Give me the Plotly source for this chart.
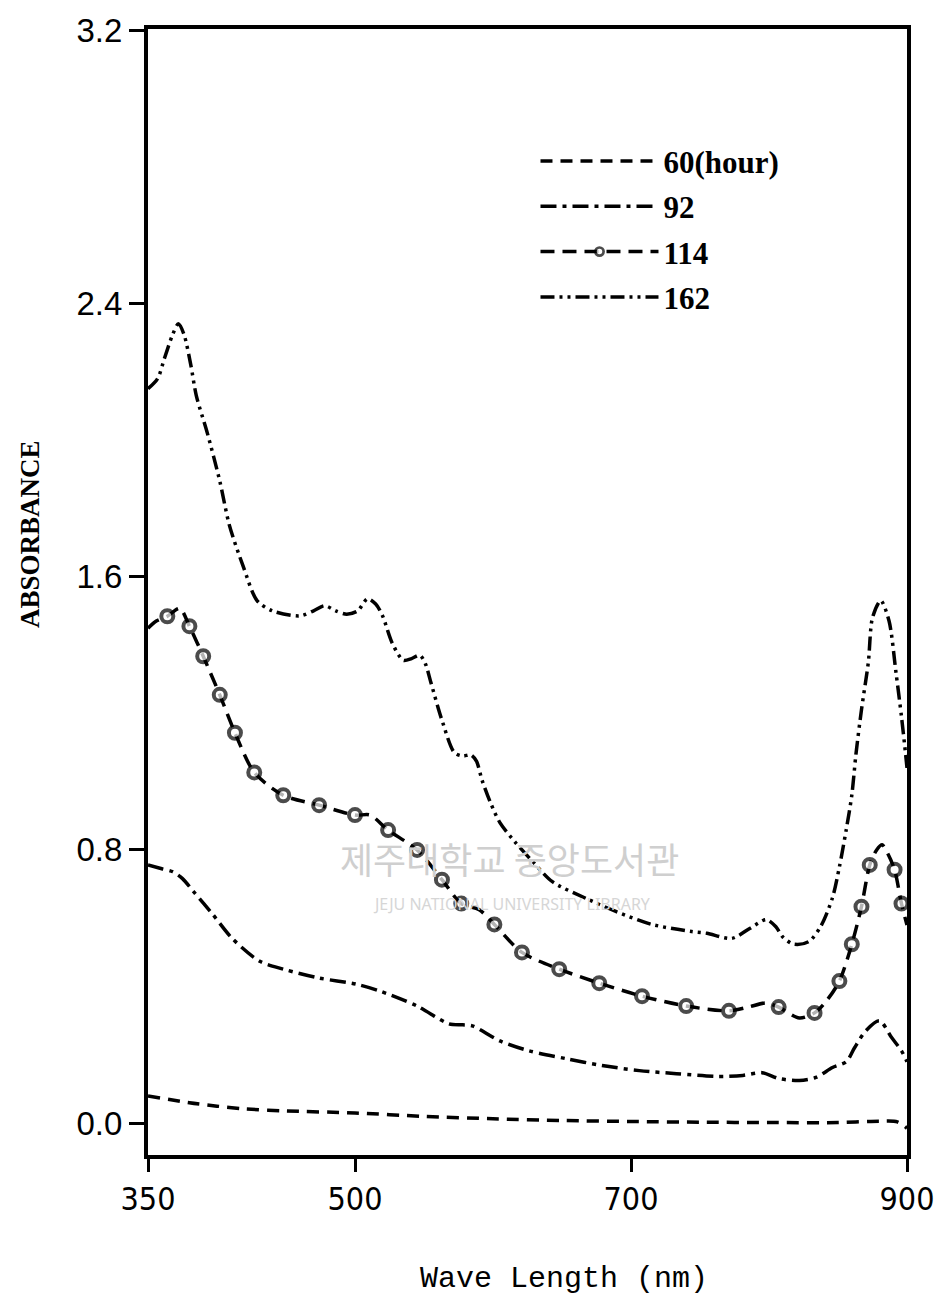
import plotly.graph_objects as go

# ---------------- data ----------------
wl_60 = [350, 380, 400, 420, 450, 500, 550, 600, 650, 700, 750, 800, 850, 880, 893, 900]
abs_60 = [0.08, 0.06, 0.05, 0.042, 0.036, 0.03, 0.02, 0.013, 0.008, 0.005, 0.003, 0.002,
          0.002, 0.006, 0.004, -0.015]

wl_92 = [350, 360, 368, 375, 383, 397, 411, 431, 448, 474, 501, 518, 545, 568, 578, 585,
         605, 626, 653, 679, 706, 733, 762, 781, 795, 807, 822, 834, 846, 856, 862, 870,
         880, 889, 896, 900]
abs_92 = [0.756, 0.745, 0.736, 0.716, 0.678, 0.611, 0.541, 0.474, 0.451, 0.425, 0.407,
          0.387, 0.343, 0.291, 0.288, 0.285, 0.241, 0.212, 0.189, 0.169, 0.154, 0.145,
          0.137, 0.14, 0.148, 0.131, 0.125, 0.134, 0.163, 0.18, 0.221, 0.27, 0.30, 0.25,
          0.212, 0.18]

wl_114 = [350, 356, 364, 373, 380, 390, 402, 413, 427, 448, 474, 500, 511, 524, 545, 563,
          577, 590, 601, 621, 648, 677, 708, 740, 771, 785, 798, 807, 822, 833, 842, 851,
          860, 867, 873, 878, 882, 886, 891, 896, 900]
abs_114 = [1.449, 1.47, 1.484, 1.507, 1.455, 1.367, 1.254, 1.143, 1.027, 0.96, 0.931,
           0.902, 0.902, 0.858, 0.80, 0.713, 0.643, 0.625, 0.582, 0.50, 0.451, 0.41,
           0.372, 0.343, 0.329, 0.34, 0.352, 0.34, 0.308, 0.323, 0.36, 0.416, 0.524,
           0.634, 0.756, 0.80, 0.815, 0.79, 0.742, 0.643, 0.58]
# wavelengths of 114-h curve where the recorder drew circle symbols
circle_wl_114 = [364, 380, 390, 402, 413, 427, 448, 474, 500, 524, 545, 563, 577, 601,
                 621, 648, 677, 708, 740, 771, 807, 833, 851, 860, 867, 873, 891, 896]

wl_162 = [350, 357, 362, 368, 372, 376, 381, 385, 393, 402, 409, 419, 429, 440, 460, 470,
          478, 486, 494, 502, 509, 515, 520, 527, 535, 541, 547, 551, 555, 563, 572, 578,
          584, 588, 592, 598, 605, 616, 629, 643, 668, 689, 715, 744, 755, 773, 786, 798,
          805, 810, 818, 829, 838, 846, 851, 856, 860, 863, 867, 872, 875, 881, 887, 892,
          896, 899, 900]
abs_162 = [2.15, 2.18, 2.24, 2.31, 2.34, 2.31, 2.22, 2.13, 2.02, 1.88, 1.75, 1.63, 1.53,
           1.50, 1.485, 1.50, 1.515, 1.50, 1.49, 1.50, 1.535, 1.52, 1.485, 1.405, 1.355,
           1.36, 1.37, 1.345, 1.29, 1.18, 1.085, 1.075, 1.078, 1.06, 1.005, 0.94, 0.88,
           0.823, 0.765, 0.707, 0.657, 0.62, 0.582, 0.561, 0.556, 0.541, 0.57, 0.596,
           0.575, 0.545, 0.524, 0.532, 0.58, 0.66, 0.75, 0.86, 0.96, 1.08, 1.21, 1.35,
           1.48, 1.53, 1.47, 1.32, 1.19, 1.08, 1.04]

series_names = ["60(hour)", "92", "114", "162"]
x_ticks = [350, 500, 700, 900]
y_ticks = [0.0, 0.8, 1.6, 2.4, 3.2]

# ---------------- layout geometry (pixels) ----------------
W, H = 946, 1300
PL, PR, PT, PB = 148, 908, 22, 1155


def px(xp):
    return (xp - PL) / (PR - PL)


def py(yp):
    return (PB - yp) / (PB - PT)


LW = 3.5
fig = go.Figure()

fig.add_trace(go.Scatter(
    x=wl_60, y=abs_60, name=series_names[0], mode="lines", legendgroup="a",
    line=dict(color="black", width=LW, dash="12px,8px", shape="spline", smoothing=0.8)))

fig.add_trace(go.Scatter(
    x=wl_92, y=abs_92, name=series_names[1], mode="lines", legendgroup="b",
    line=dict(color="black", width=LW, dash="16px,6px,4px,6px", shape="spline",
              smoothing=0.8)))

is_circle = [w in circle_wl_114 for w in wl_114]
fig.add_trace(go.Scatter(
    x=wl_114, y=abs_114, name=series_names[2], mode="lines+markers", legendgroup="c",
    line=dict(color="black", width=LW, dash="14px,8px", shape="spline", smoothing=0.8),
    marker=dict(symbol="circle", color="white",
                size=[12 if c else 0 for c in is_circle],
                line=dict(color="black", width=[4 if c else 0 for c in is_circle]))))

fig.add_trace(go.Scatter(
    x=wl_162, y=abs_162, name=series_names[3], mode="lines", legendgroup="d",
    line=dict(color="black", width=LW, dash="14px,5px,3px,5px,3px,5px", shape="spline",
              smoothing=0.8)))

tick_font_y = dict(family="Liberation Sans, Arial, sans-serif", size=33, color="black")
tick_font_x = dict(family="Liberation Sans Narrow, Arial Narrow, DejaVu Sans Condensed, "
                          "Liberation Sans, sans-serif", size=32, color="black")

fig.update_layout(
    width=W, height=H, autosize=False,
    margin=dict(l=PL, r=W - PR, t=PT, b=H - PB, pad=0),
    paper_bgcolor="white", plot_bgcolor="white",
    showlegend=True,
    legend=dict(x=px(536), y=py(128), xanchor="left", yanchor="top",
                bgcolor="rgba(0,0,0,0)", borderwidth=0, tracegroupgap=2,
                itemwidth=118,
                font=dict(family="Liberation Serif, Times New Roman, serif", size=31,
                          color="black", weight="bold")),
    xaxis=dict(range=[350, 900], tickvals=x_ticks, ticktext=[str(v) for v in x_ticks],
               ticks="outside", ticklen=13, tickwidth=3, tickcolor="black",
               showline=True, linewidth=4, linecolor="black", mirror=True,
               showgrid=False, zeroline=False, tickfont=tick_font_x),
    yaxis=dict(range=[-0.093, 3.203], tickvals=y_ticks,
               ticktext=["%.1f" % v for v in y_ticks],
               ticks="outside", ticklen=15, tickwidth=3, tickcolor="black",
               showline=True, linewidth=4, linecolor="black", mirror=True,
               showgrid=False, zeroline=False, tickfont=tick_font_y),
)

# axis titles
fig.add_annotation(text="ABSORBANCE", xref="paper", yref="paper", x=px(30), y=py(530),
                   xanchor="center", yanchor="middle", showarrow=False, textangle=-90,
                   font=dict(family="Liberation Serif, Times New Roman, serif", size=27,
                             color="black", weight="bold"))
fig.add_annotation(text="Wave Length (nm)", xref="paper", yref="paper", x=px(565),
                   y=py(1280), xanchor="center", yanchor="middle", showarrow=False,
                   font=dict(family="Liberation Mono, Courier New, monospace", size=30,
                             color="black"))

# library watermark of the scanned source
fig.add_annotation(text="제주대학교 중앙도서관", xref="paper", yref="paper", x=px(510),
                   y=py(856), xanchor="center", yanchor="middle", showarrow=False,
                   font=dict(family="Noto Sans CJK KR", size=36, color="#cfcfcf"))
fig.add_annotation(text="JEJU NATIONAL UNIVERSITY LIBRARY", xref="paper", yref="paper",
                   x=px(512), y=py(902), xanchor="center", yanchor="middle",
                   showarrow=False,
                   font=dict(family="Noto Sans", size=16, color="#d6d6d6"))

fig.write_html("out.html")
